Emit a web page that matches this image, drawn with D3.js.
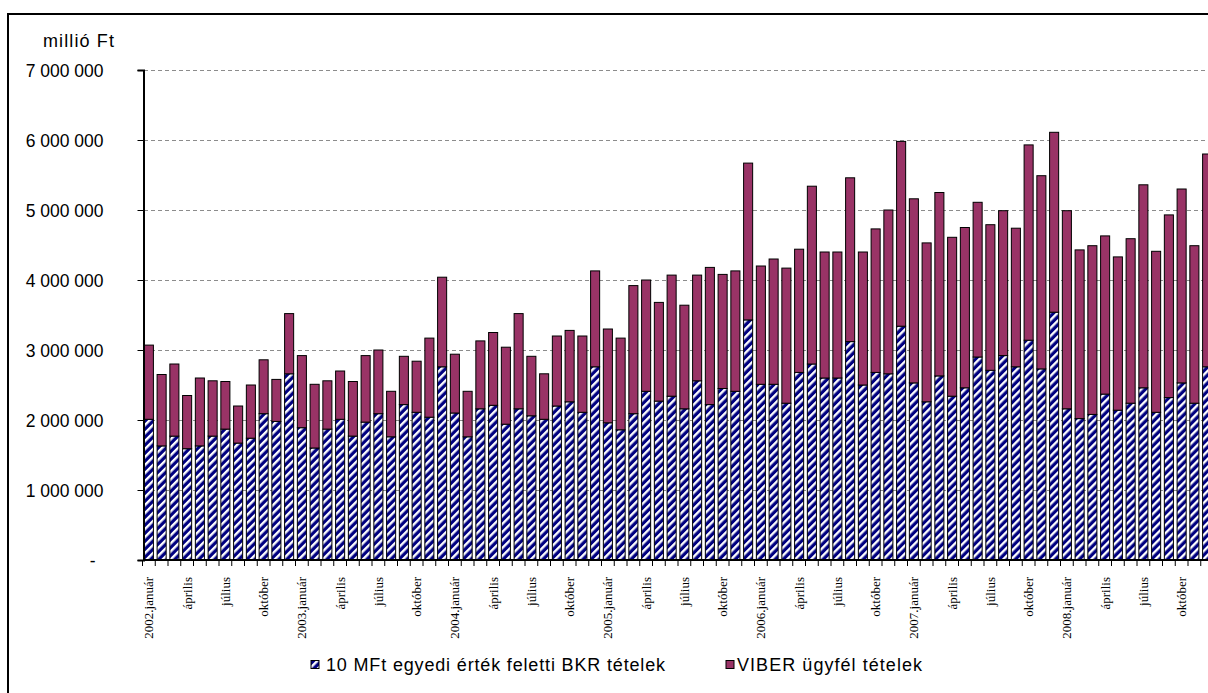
<!DOCTYPE html>
<html>
<head>
<meta charset="utf-8">
<script src="https://cdn.jsdelivr.net/npm/d3@7"></script>
<style>
  html, body { margin: 0; padding: 0; background: #fff; overflow: hidden; }
  svg { display: block; }
</style>
</head>
<body>
<svg id="chart" width="1208" height="693"></svg>
<script>
// ---- data (millió Ft) ----
const years = [2002, 2003, 2004, 2005, 2006, 2007, 2008];
const monthNames = ["január","február","március","április","május","június",
                    "július","augusztus","szeptember","október","november","december"];
const categories = years.flatMap(y => monthNames.map(m => y + "." + m));

const bkr = [
  2010000,1630000,1770000,1590000,1630000,1770000,1870000,1670000,1740000,2090000,1980000,2660000,
  1890000,1600000,1870000,2010000,1770000,1970000,2090000,1760000,2220000,2110000,2040000,2760000,
  2100000,1760000,2160000,2210000,1940000,2160000,2060000,2010000,2200000,2260000,2110000,2760000,
  1960000,1860000,2090000,2410000,2270000,2340000,2160000,2560000,2220000,2450000,2410000,3430000,
  2510000,2510000,2240000,2680000,2800000,2600000,2600000,3120000,2500000,2680000,2660000,3340000,
  2530000,2260000,2630000,2340000,2460000,2900000,2710000,2920000,2760000,3140000,2730000,3540000,
  2160000,2020000,2080000,2370000,2140000,2240000,2460000,2110000,2320000,2530000,2240000,2760000
];
const viber = [
  1060000,1020000,1030000, 760000, 970000, 790000, 680000, 530000, 760000, 770000, 600000, 860000,
  1030000, 910000, 690000, 690000, 780000, 950000, 910000, 650000, 690000, 730000,1130000,1280000,
   840000, 650000, 970000,1040000,1100000,1360000, 850000, 650000,1000000,1020000,1090000,1370000,
  1340000,1310000,1830000,1590000,1410000,1730000,1480000,1510000,1960000,1630000,1720000,2240000,
  1690000,1790000,1930000,1760000,2540000,1800000,1800000,2340000,1900000,2050000,2340000,2640000,
  2630000,2270000,2620000,2270000,2290000,2210000,2080000,2070000,1980000,2790000,2760000,2570000,
  2830000,2410000,2410000,2260000,2190000,2350000,2900000,2300000,2610000,2770000,2250000,3040000
];
const seriesNames = ["10 MFt egyedi érték feletti BKR tételek", "VIBER ügyfél tételek"];
const yTicks = [0, 1000000, 2000000, 3000000, 4000000, 5000000, 6000000, 7000000];
const unitLabel = "millió Ft";

// ---- drawing ----
const svg = d3.select("#chart");
const colorBlue = "#000080", colorViber = "#993366";

const defs = svg.append("defs");
const pat = defs.append("pattern")
  .attr("id", "hatch").attr("patternUnits", "userSpaceOnUse")
  .attr("width", 5.66).attr("height", 10)
  .attr("patternTransform", "rotate(45)");
pat.append("rect").attr("width", 5.66).attr("height", 10).attr("fill", colorBlue);
pat.append("rect").attr("width", 2.4).attr("height", 10).attr("fill", "#fff");

const x = d3.scaleBand().domain(categories).range([142.5, 1213.5]).paddingInner(0.29).paddingOuter(0.145);
const y = d3.scaleLinear().domain([0, 7000000]).range([560, 70]);

// outer frame
svg.append("rect").attr("x", 8).attr("y", 14).attr("width", 1300).attr("height", 760)
  .attr("fill", "none").attr("stroke", "#000").attr("stroke-width", 2);

// gridlines
svg.append("g").selectAll("line").data(yTicks.filter(d => d > 0)).join("line")
  .attr("x1", 144).attr("x2", 1208)
  .attr("y1", d => Math.round(y(d)) + 0.5).attr("y2", d => Math.round(y(d)) + 0.5)
  .attr("stroke", "#8c8c8c").attr("stroke-width", 1).attr("stroke-dasharray", "4,3");

// stacked bars
const stackData = categories.map((c, i) => ({ cat: c, bkr: bkr[i], viber: viber[i] }));
const stack = d3.stack().keys(["bkr", "viber"])(stackData);
const fills = { bkr: "url(#hatch)", viber: colorViber };

svg.append("g").selectAll("g").data(stack).join("g")
  .attr("fill", d => fills[d.key])
  .selectAll("rect").data(d => d).join("rect")
  .attr("x", d => x(d.data.cat))
  .attr("width", x.bandwidth())
  .attr("y", d => y(d[1]))
  .attr("height", d => y(d[0]) - y(d[1]))
  .attr("stroke", "#000").attr("stroke-width", 1);

// y axis
const fmt = d3.formatLocale({ thousands: " ", grouping: [3], decimal: ",", currency: ["", ""] }).format(",d");
const yAxis = svg.append("g").attr("transform", "translate(143.5,0)")
  .call(d3.axisLeft(y).tickValues(yTicks).tickSize(6).tickPadding(34)
        .tickFormat(d => d === 0 ? "-" : fmt(d)));
yAxis.select(".domain").attr("stroke", "#000").attr("stroke-width", 2);
yAxis.selectAll(".tick line").attr("stroke", "#000");
yAxis.selectAll(".tick text")
  .attr("font-family", "Liberation Sans, Arial, sans-serif").attr("font-size", 17.5)
  .attr("fill", "#000").attr("dy", "0.36em")
  .attr("dx", d => d === 0 ? -8 : 0);

// x axis
const xAxisG = svg.append("g").attr("transform", "translate(0,560)");
xAxisG.append("line").attr("x1", 143).attr("x2", 1208).attr("y1", 0).attr("y2", 0)
  .attr("stroke", "#000").attr("stroke-width", 2);
xAxisG.selectAll("line.tk").data(categories).join("line").attr("class", "tk")
  .attr("x1", d => x(d) - x.step() * x.paddingInner() / 2)
  .attr("x2", d => x(d) - x.step() * x.paddingInner() / 2)
  .attr("y1", 0).attr("y2", 6).attr("stroke", "#000").attr("stroke-width", 1);

const shown = categories.filter((c, i) => i % 3 === 0);
xAxisG.selectAll("text").data(shown).join("text")
  .attr("transform", d => `translate(${x(d) + x.bandwidth() / 2},17) rotate(-90)`)
  .attr("text-anchor", "end").attr("dy", "0.35em")
  .attr("font-family", "Liberation Serif, Times New Roman, serif").attr("font-size", 13)
  .attr("fill", "#000")
  .text(d => {
    const [yr, m] = d.split(".");
    return m === "január" ? d : m;
  });

// unit label
svg.append("text").attr("x", 43).attr("y", 47)
  .attr("font-family", "Liberation Sans, Arial, sans-serif").attr("font-size", 18)
  .attr("textLength", 71).attr("lengthAdjust", "spacing")
  .text(unitLabel);

// legend
const legendItems = [
  { name: seriesNames[0], fill: "url(#hatch)", px: 311, tx: 326, tl: 339 },
  { name: seriesNames[1], fill: colorViber, px: 726, tx: 737, tl: 185 }
];
const lg = svg.append("g");
legendItems.forEach(it => {
  lg.append("rect").attr("x", it.px).attr("y", 660.5).attr("width", 8).attr("height", 8)
    .attr("fill", it.fill).attr("stroke", "#000").attr("stroke-width", 1);
  lg.append("text").attr("x", it.tx).attr("y", 670.5)
    .attr("font-family", "Liberation Sans, Arial, sans-serif").attr("font-size", 18)
    .attr("textLength", it.tl).attr("lengthAdjust", "spacing")
    .text(it.name);
});
</script>
</body>
</html>
